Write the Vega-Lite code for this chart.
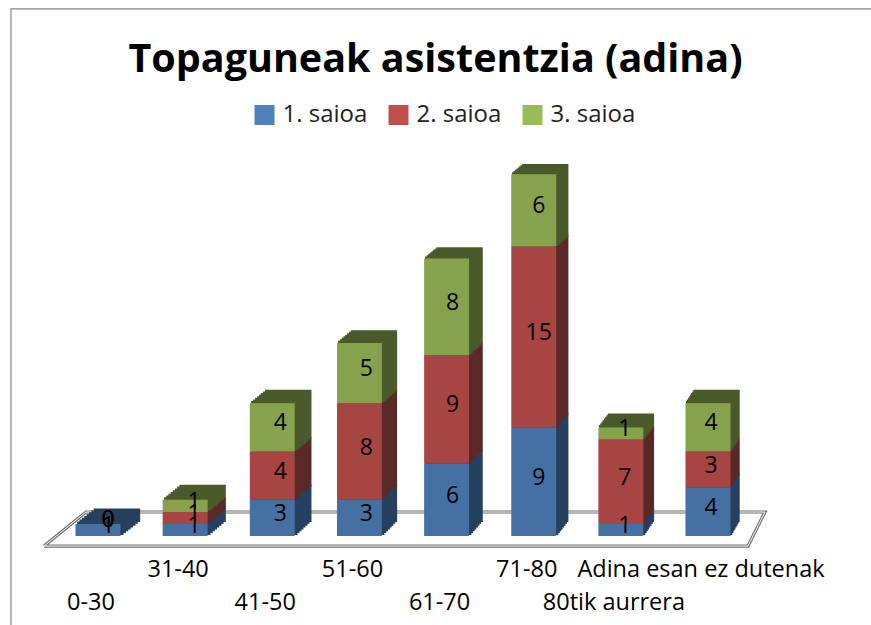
{"$schema":"https://vega.github.io/schema/vega-lite/v6.json","width":871,"height":404,"autosize":{"type":"none"},"padding":{"left":0,"right":0,"top":150,"bottom":71},"background":"white","view":{"stroke":null},
"config":{"font":"Open Sans","text":{"font":"Open Sans"}},
"title":{"text":"Topaguneak asistentzia (adina)","font":"Open Sans","fontSize":39.5,"fontWeight":"bold","color":"black","anchor":"middle","frame":"group","offset":-113,"baseline":"bottom"},
"params":[{"name":"ages","value":["0-30","31-40","41-50","51-60","61-70","71-80","80tik aurrera","Adina esan ez dutenak"]}],
"resolve":{"scale":{"x":"independent"}},
"layer":[
{"data":{"values":[{"saioa":"1. saioa"},{"saioa":"2. saioa"},{"saioa":"3. saioa"}]},"mark":{"type":"point","shape":"square","filled":true,"opacity":0},"encoding":{"color":{"field":"saioa","type":"nominal","scale":{"domain":["1. saioa","2. saioa","3. saioa"],"range":["#4f81bd","#c0504d","#9bbb59"]},"legend":{"title":null,"orient":"none","legendX":252.5,"legendY":-47,"direction":"horizontal","columns":3,"padding":0,"symbolType":"square","symbolSize":400,"symbolOpacity":1,"symbolStrokeWidth":0,"labelFontSize":24,"labelFont":"Open Sans","labelColor":"#222222","labelOffset":6,"columnPadding":19}}}},
{"data":{"values":[{"across":0.0126,"level":-7.37,"seq":0},{"across":0.0126,"level":43.7,"seq":1},{"across":1,"level":43.7,"seq":2}]},"mark":{"type":"line","stroke":"#868686","strokeWidth":1.2},"encoding":{"x":{"field":"across","type":"quantitative","scale":{"domain":[0,1],"range":[0,871],"nice":false,"zero":false},"axis":null},"y":{"field":"level","type":"quantitative","scale":{"domain":[-1.49,32],"range":[404,0],"nice":false,"zero":false},"axis":null},"order":{"field":"seq"}}},
{"data":{"name":"floor","values":[{"across":0.0505,"level":-0.83,"seq":0},{"across":0.8588,"level":-0.83,"seq":1},{"across":0.8783,"level":1.99,"seq":2},{"across":0.0987,"level":1.99,"seq":3},{"across":0.0505,"level":-0.83,"seq":4}]},"layer":[
{"mark":{"type":"line","stroke":"#6f6f6f","strokeWidth":3.2}},
{"mark":{"type":"line","stroke":"white","strokeWidth":1}}],
"encoding":{"x":{"field":"across","type":"quantitative","scale":{"domain":[0,1],"range":[0,871],"nice":false,"zero":false},"axis":null},"y":{"field":"level","type":"quantitative","axis":null},"order":{"field":"seq"}}},
{"data":{"values":[
{"age":"0-30","saioa":"1. saioa","value":1},{"age":"0-30","saioa":"2. saioa","value":0},{"age":"0-30","saioa":"3. saioa","value":0},
{"age":"31-40","saioa":"1. saioa","value":1},{"age":"31-40","saioa":"2. saioa","value":1},{"age":"31-40","saioa":"3. saioa","value":1},
{"age":"41-50","saioa":"1. saioa","value":3},{"age":"41-50","saioa":"2. saioa","value":4},{"age":"41-50","saioa":"3. saioa","value":4},
{"age":"51-60","saioa":"1. saioa","value":3},{"age":"51-60","saioa":"2. saioa","value":8},{"age":"51-60","saioa":"3. saioa","value":5},
{"age":"61-70","saioa":"1. saioa","value":6},{"age":"61-70","saioa":"2. saioa","value":9},{"age":"61-70","saioa":"3. saioa","value":8},
{"age":"71-80","saioa":"1. saioa","value":9},{"age":"71-80","saioa":"2. saioa","value":15},{"age":"71-80","saioa":"3. saioa","value":6},
{"age":"80tik aurrera","saioa":"1. saioa","value":1},{"age":"80tik aurrera","saioa":"2. saioa","value":7},{"age":"80tik aurrera","saioa":"3. saioa","value":1},
{"age":"Adina esan ez dutenak","saioa":"1. saioa","value":4},{"age":"Adina esan ez dutenak","saioa":"2. saioa","value":3},{"age":"Adina esan ez dutenak","saioa":"3. saioa","value":4}]},
"transform":[{"stack":"value","groupby":["age"],"sort":[{"field":"saioa","order":"ascending"}],"as":["y0","y1"]}],
"encoding":{
"x":{"field":"age","type":"nominal","scale":{"domain":["0-30","31-40","41-50","51-60","61-70","71-80","80tik aurrera","Adina esan ez dutenak"],"range":[54.4,751.6],"paddingInner":0,"paddingOuter":0},"axis":{"title":null,"domain":false,"ticks":false,"grid":false,"labelAngle":0,"labelOverlap":false,"labelBound":false,"labelLimit":400,"labelFontSize":23.5,"labelFont":"Open Sans","labelColor":"black","labelOffset":-7,"labelPadding":3,"labelLineHeight":33,"labelBaseline":"top","labelExpr":"indexof(['0-30','41-50','61-70','80tik aurrera'],datum.label)>=0 ? ['',datum.label] : datum.label"}},
"y":{"field":"y0","type":"quantitative","axis":null}},
"layer":[
{"transform":[{"filter":"datum.value>0"}],
"encoding":{"y2":{"field":"y1"}},
"layer":[
{"encoding":{"fill":{"field":"saioa","type":"nominal","legend":null,"scale":{"domain":["1. saioa","2. saioa","3. saioa"],"range":["#26415f","#5a2a28","#4b5a2b"]}},"stroke":{"field":"saioa","type":"nominal","legend":null,"scale":{"domain":["1. saioa","2. saioa","3. saioa"],"range":["#26415f","#5a2a28","#4b5a2b"]}}},
"layer":[
{"mark":{"type":"bar","width":{"band":0.515},"strokeWidth":1.5,"xOffset":{"expr":"1*(19-1.5*indexof(ages,datum.age))"},"yOffset":{"expr":"-1*0.015*(600+scale('y',datum.y0))"},"y2Offset":{"expr":"-1*0.015*(600+scale('y',datum.y1))"}}},
{"mark":{"type":"bar","width":{"band":0.515},"strokeWidth":1.5,"xOffset":{"expr":"0.875*(19-1.5*indexof(ages,datum.age))"},"yOffset":{"expr":"-0.875*0.015*(600+scale('y',datum.y0))"},"y2Offset":{"expr":"-0.875*0.015*(600+scale('y',datum.y1))"}}},
{"mark":{"type":"bar","width":{"band":0.515},"strokeWidth":1.5,"xOffset":{"expr":"0.75*(19-1.5*indexof(ages,datum.age))"},"yOffset":{"expr":"-0.75*0.015*(600+scale('y',datum.y0))"},"y2Offset":{"expr":"-0.75*0.015*(600+scale('y',datum.y1))"}}},
{"mark":{"type":"bar","width":{"band":0.515},"strokeWidth":1.5,"xOffset":{"expr":"0.625*(19-1.5*indexof(ages,datum.age))"},"yOffset":{"expr":"-0.625*0.015*(600+scale('y',datum.y0))"},"y2Offset":{"expr":"-0.625*0.015*(600+scale('y',datum.y1))"}}},
{"mark":{"type":"bar","width":{"band":0.515},"strokeWidth":1.5,"xOffset":{"expr":"0.5*(19-1.5*indexof(ages,datum.age))"},"yOffset":{"expr":"-0.5*0.015*(600+scale('y',datum.y0))"},"y2Offset":{"expr":"-0.5*0.015*(600+scale('y',datum.y1))"}}},
{"mark":{"type":"bar","width":{"band":0.515},"strokeWidth":1.5,"xOffset":{"expr":"0.375*(19-1.5*indexof(ages,datum.age))"},"yOffset":{"expr":"-0.375*0.015*(600+scale('y',datum.y0))"},"y2Offset":{"expr":"-0.375*0.015*(600+scale('y',datum.y1))"}}},
{"mark":{"type":"bar","width":{"band":0.515},"strokeWidth":1.5,"xOffset":{"expr":"0.25*(19-1.5*indexof(ages,datum.age))"},"yOffset":{"expr":"-0.25*0.015*(600+scale('y',datum.y0))"},"y2Offset":{"expr":"-0.25*0.015*(600+scale('y',datum.y1))"}}},
{"mark":{"type":"bar","width":{"band":0.515},"strokeWidth":1.5,"xOffset":{"expr":"0.125*(19-1.5*indexof(ages,datum.age))"},"yOffset":{"expr":"-0.125*0.015*(600+scale('y',datum.y0))"},"y2Offset":{"expr":"-0.125*0.015*(600+scale('y',datum.y1))"}}}
]},
{"mark":{"type":"bar","width":{"band":0.515}},"encoding":{"color":{"field":"saioa","type":"nominal","legend":null}}},
{"mark":{"type":"bar","width":{"band":0.515},"fill":"black","fillOpacity":0.13}}
]},
{"mark":{"type":"text","font":"Open Sans","fontSize":23,"color":"black","baseline":"middle","xOffset":{"expr":"10-indexof(ages,datum.age)"},"yOffset":-4},"encoding":{"y":{"field":"mid","type":"quantitative"},"text":{"field":"value","type":"quantitative"}},"transform":[{"calculate":"(datum.y0+datum.y1)/2","as":"mid"}]}
]}
]}
